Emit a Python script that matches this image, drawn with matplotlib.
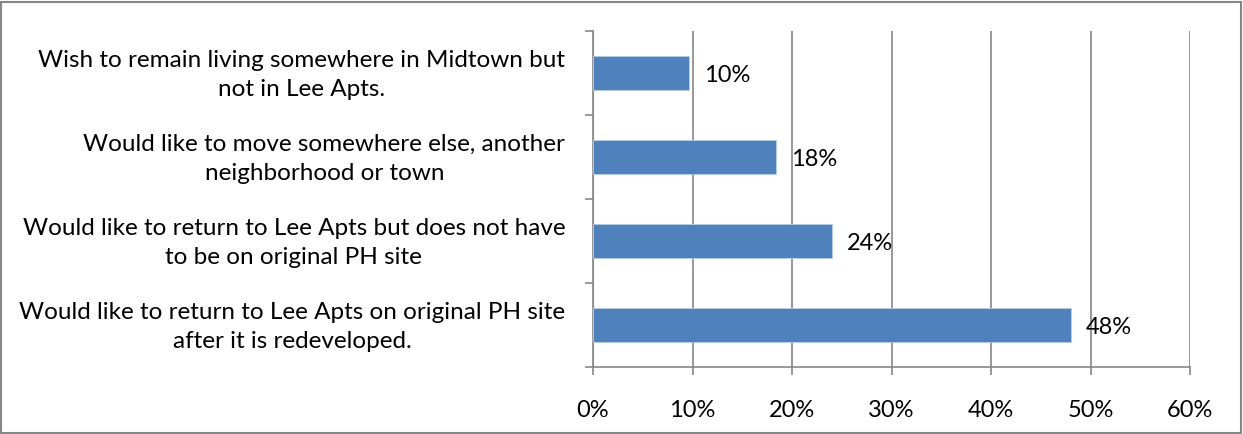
import matplotlib
matplotlib.use("Agg")
import matplotlib.pyplot as plt
from matplotlib.patches import Rectangle
from matplotlib.ticker import FixedLocator, NullFormatter, FuncFormatter
from matplotlib.transforms import ScaledTranslation

categories = [
    "Wish to remain living somewhere in Midtown but\nnot in Lee Apts.",
    "Would like to move somewhere else, another\nneighborhood or town",
    "Would like to return to Lee Apts but does not have\nto be on original PH site",
    "Would like to return to Lee Apts on original PH site\nafter it is redeveloped.",
]
values = [9.6, 18.4, 24.0, 48.0]
value_labels = ["10%", "18%", "24%", "48%"]
x_ticks = [0, 10, 20, 30, 40, 50, 60]

plt.rcParams['font.family'] = ['Lato', 'DejaVu Sans']

fig = plt.figure(figsize=(12.43, 4.34), dpi=100)
ax = fig.add_axes([593/1243, 1-367/434, (1190-593)/1243, (367-31)/434])

n = len(categories)
ypos = [n - 1 - i for i in range(n)]
ax.barh(ypos, values, height=0.4, color="#4F81BD", edgecolor="#B9CDE5", linewidth=0.6, zorder=3)

for y, v, lab in zip(ypos, values, value_labels):
    ax.annotate(lab, (v, y), xytext=(11, -2), textcoords="offset points",
                ha="left", va="center", fontsize=17, color="black", zorder=4)

ax.set_xlim(0, 60)
ax.set_ylim(-0.5, n - 0.5)
ax.set_xticks(x_ticks)
ax.xaxis.set_major_formatter(FuncFormatter(lambda v, p: f"{int(v)}%"))
ax.grid(axis="x", color="#868686", linewidth=1.2, zorder=0)

ax.yaxis.set_major_locator(FixedLocator([i - 0.5 for i in range(n + 1)]))
ax.yaxis.set_major_formatter(NullFormatter())
ax.yaxis.set_minor_locator(FixedLocator(ypos))
ax.set_yticklabels(categories, minor=True, multialignment="center", fontsize=17.5, linespacing=1.45)
ax.tick_params(axis="y", which="minor", length=0, pad=20)
ax.tick_params(axis="y", which="major", length=6, width=1.2, color="#868686", direction="out")
ax.tick_params(axis="x", length=6, width=1.2, color="#868686", direction="out", labelsize=17, pad=18)

shift = ScaledTranslation(0, 4/100, fig.dpi_scale_trans)
for t in ax.get_yticklabels(minor=True):
    t.set_transform(t.get_transform() + shift)

for s in ["top", "right"]:
    ax.spines[s].set_visible(False)
for s in ["left", "bottom"]:
    ax.spines[s].set_color("#868686")
    ax.spines[s].set_linewidth(1.2)

fig.patches.append(Rectangle((0.001, 0.002), 0.997, 0.994, transform=fig.transFigure,
                             fill=False, edgecolor="#868686", linewidth=1.5))

fig.savefig("out.png", dpi=100)
